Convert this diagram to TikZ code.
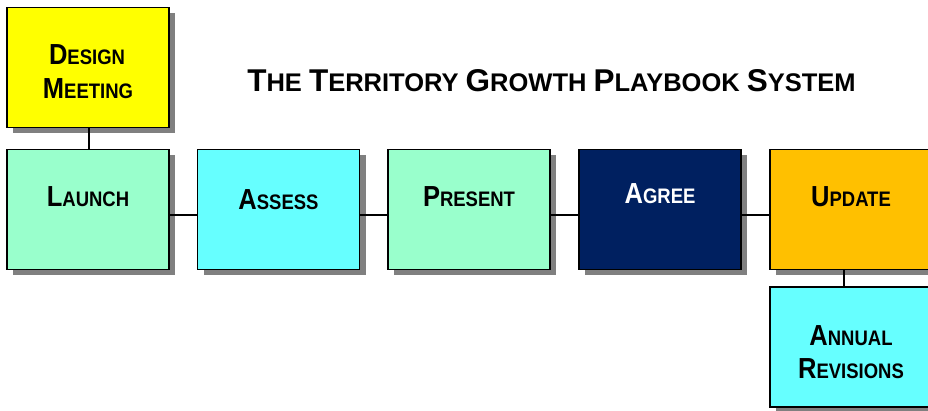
\documentclass[tikz,border=0pt]{standalone}
\usepackage{fontspec}
\setmainfont{Liberation Sans}
\newfontfamily\boxfont[FakeStretch=0.88]{Liberation Sans}
\newfontfamily\titlefont{Liberation Sans}
\newcommand\bxcap[2]{{\fontsize{29}{29}\selectfont #1}{\fontsize{21}{21}\selectfont #2}}
\newcommand\ttcap[2]{{\fontsize{31.5}{31.5}\selectfont #1}{\fontsize{25.5}{25.5}\selectfont #2}}
\definecolor{cyellow}{HTML}{FFFF00}
\definecolor{cmint}{HTML}{99FFCC}
\definecolor{ccyan}{HTML}{66FFFF}
\definecolor{cnavy}{HTML}{002060}
\definecolor{corange}{HTML}{FFC000}
\definecolor{cshadow}{HTML}{808080}
\tikzset{
  stagebox/.style={draw=black, line width=1.5pt, minimum width=162pt, minimum height=120pt,
    inner sep=0pt, outer sep=0pt,
    preaction={draw=none, fill=cshadow, transform canvas={xshift=6pt, yshift=-6pt}}},
  lbl/.style={anchor=base, inner sep=0pt, font=\boxfont\bfseries\fontsize{21}{21}\selectfont, align=center},
  conn/.style={draw=black, line width=1.5pt}
}
\begin{document}
\begin{tikzpicture}[x=1pt,y=-1pt]
\useasboundingbox (0,0) rectangle (928,411);
\clip (0,0) rectangle (928,411);
% boxes
\node[stagebox, fill=cyellow] (design) at (88,67.5) {};
\node[stagebox, fill=cmint]   (launch) at (88,209.5) {};
\node[stagebox, fill=ccyan]   (assess) at (278.5,209.5) {};
\node[stagebox, fill=cmint]   (present) at (469,209.5) {};
\node[stagebox, fill=cnavy]   (agree) at (660,209.5) {};
\node[stagebox, fill=corange] (update) at (851,209.5) {};
\node[stagebox, fill=ccyan]   (annual) at (851,347) {};
% connectors
\coordinate (hrow) at (0,215);
\coordinate (vleft) at (89,0);
\coordinate (vright) at (844,0);
\draw[conn] (launch.east |- hrow) -- (assess.west |- hrow);
\draw[conn] (assess.east |- hrow) -- (present.west |- hrow);
\draw[conn] (present.east |- hrow) -- (agree.west |- hrow);
\draw[conn] (agree.east |- hrow) -- (update.west |- hrow);
\draw[conn] (design.south -| vleft) -- (launch.north -| vleft);
\draw[conn] (update.south -| vright) -- (annual.north -| vright);
% labels
\node[lbl] (tdesign1) at (87,65) {\bxcap{D}{ESIGN}};
\node[lbl] (tdesign2) at (88,99) {\bxcap{M}{EETING}};
\node[lbl] (tlaunch) at (88,207) {\bxcap{L}{AUNCH}};
\node[lbl] (tassess) at (278.5,210) {\bxcap{A}{SSESS}};
\node[lbl] (tpresent) at (469,207) {\bxcap{P}{RESENT}};
\node[lbl, text=white] (tagree) at (660,204) {\bxcap{A}{GREE}};
\node[lbl] (tupdate) at (851,207) {\bxcap{U}{PDATE}};
\node[lbl] (tannual1) at (851,345) {\bxcap{A}{NNUAL}};
\node[lbl] (tannual2) at (851,378) {\bxcap{R}{EVISIONS}};
% title
\node[anchor=base, inner sep=0pt, font=\titlefont\bfseries\fontsize{25.5}{25.5}\selectfont] (title) at (551.5,92)
  {\ttcap{T}{HE} \ttcap{T}{ERRITORY} \ttcap{G}{ROWTH} \ttcap{P}{LAYBOOK} \ttcap{S}{YSTEM}};
\end{tikzpicture}
\end{document}
